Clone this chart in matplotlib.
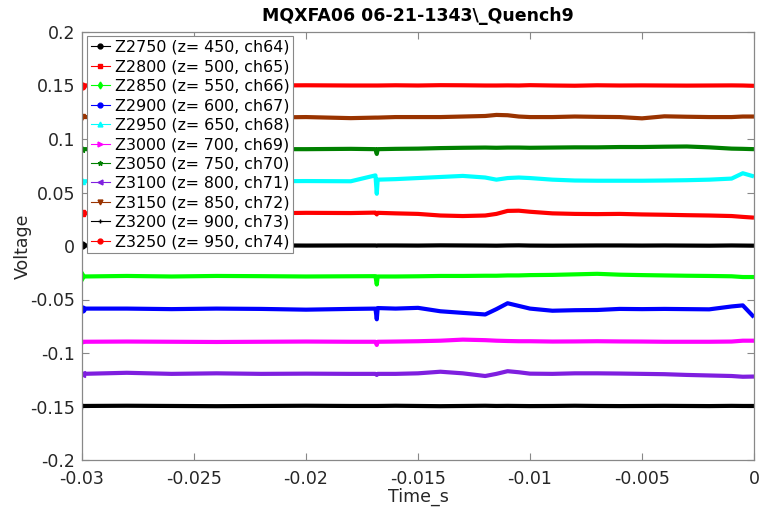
import matplotlib
matplotlib.use('Agg')
import matplotlib.pyplot as plt
from matplotlib.lines import Line2D

plt.rcParams['font.family'] = ['DejaVu Sans']
plt.rcParams['axes.unicode_minus'] = False

# ---- data ----
time_s = [-0.030, -0.028, -0.026, -0.024, -0.022, -0.020, -0.018, -0.0169, -0.01684, -0.0168,
          -0.016, -0.015, -0.014, -0.013, -0.012, -0.0115, -0.011, -0.0105, -0.010, -0.009,
          -0.008, -0.007, -0.006, -0.005, -0.004, -0.003, -0.002, -0.001, -0.0005, 0.0]

labels = ["Z2750 (z= 450, ch64)", "Z2800 (z= 500, ch65)", "Z2850 (z= 550, ch66)",
          "Z2900 (z= 600, ch67)", "Z2950 (z= 650, ch68)", "Z3000 (z= 700, ch69)",
          "Z3050 (z= 750, ch70)", "Z3100 (z= 800, ch71)", "Z3150 (z= 850, ch72)",
          "Z3200 (z= 900, ch73)", "Z3250 (z= 950, ch74)"]

v_z2750 = [0.0005, 0.0003, 0.0005, 0.0004, 0.0006, 0.0004, 0.0005, 0.0005, 0.0003, 0.0005,
           0.0005, 0.0004, 0.0006, 0.0005, 0.0004, 0.0003, 0.0005, 0.0006, 0.0004, 0.0003,
           0.0004, 0.0005, 0.0005, 0.0004, 0.0005, 0.0004, 0.0003, 0.0005, 0.0004, 0.0003]
v_z2800 = [0.0305, 0.0310, 0.0308, 0.0310, 0.0305, 0.0310, 0.0308, 0.0312, 0.0295, 0.0310,
           0.0305, 0.0300, 0.0285, 0.0280, 0.0285, 0.0300, 0.0328, 0.0330, 0.0320, 0.0305,
           0.0300, 0.0298, 0.0300, 0.0295, 0.0292, 0.0288, 0.0285, 0.0280, 0.0272, 0.0265]
v_z2850 = [-0.0285, -0.0280, -0.0285, -0.0280, -0.0282, -0.0285, -0.0283, -0.0282, -0.0360, -0.0285,
           -0.0285, -0.0283, -0.0280, -0.0280, -0.0278, -0.0278, -0.0275, -0.0275, -0.0272, -0.0270,
           -0.0265, -0.0260, -0.0268, -0.0272, -0.0275, -0.0278, -0.0280, -0.0283, -0.0290, -0.0290]
v_z2900 = [-0.0585, -0.0585, -0.0590, -0.0585, -0.0588, -0.0595, -0.0588, -0.0585, -0.0685, -0.0580,
           -0.0585, -0.0578, -0.0610, -0.0625, -0.0640, -0.0590, -0.0535, -0.0560, -0.0585, -0.0605,
           -0.0600, -0.0598, -0.0588, -0.0590, -0.0588, -0.0590, -0.0592, -0.0565, -0.0555, -0.0665]
v_z2950 = [0.0605, 0.0605, 0.0607, 0.0605, 0.0605, 0.0607, 0.0605, 0.0660, 0.0488, 0.0620,
           0.0625, 0.0635, 0.0645, 0.0655, 0.0640, 0.0620, 0.0635, 0.0640, 0.0635, 0.0620,
           0.0612, 0.0610, 0.0610, 0.0610, 0.0612, 0.0615, 0.0620, 0.0630, 0.0680, 0.0650]
v_z3000 = [-0.0895, -0.0893, -0.0895, -0.0897, -0.0895, -0.0893, -0.0895, -0.0895, -0.0925, -0.0895,
           -0.0893, -0.0890, -0.0885, -0.0875, -0.0880, -0.0885, -0.0888, -0.0890, -0.0890, -0.0893,
           -0.0892, -0.0890, -0.0892, -0.0893, -0.0895, -0.0895, -0.0895, -0.0893, -0.0885, -0.0885]
v_z3050 = [0.0905, 0.0905, 0.0905, 0.0908, 0.0905, 0.0905, 0.0908, 0.0905, 0.0860, 0.0905,
           0.0908, 0.0910, 0.0915, 0.0918, 0.0920, 0.0918, 0.0920, 0.0920, 0.0918, 0.0920,
           0.0922, 0.0922, 0.0925, 0.0925, 0.0928, 0.0930, 0.0922, 0.0910, 0.0908, 0.0905]
v_z3100 = [-0.1195, -0.1185, -0.1195, -0.1190, -0.1195, -0.1193, -0.1195, -0.1195, -0.1205, -0.1195,
           -0.1195, -0.1190, -0.1175, -0.1190, -0.1215, -0.1195, -0.1170, -0.1180, -0.1193, -0.1195,
           -0.1190, -0.1190, -0.1192, -0.1195, -0.1198, -0.1205, -0.1210, -0.1215, -0.1222, -0.1220]
v_z3150 = [0.1205, 0.1205, 0.1210, 0.1205, 0.1200, 0.1205, 0.1195, 0.1200, 0.1200, 0.1200,
           0.1205, 0.1205, 0.1205, 0.1210, 0.1215, 0.1225, 0.1222, 0.1210, 0.1205, 0.1205,
           0.1210, 0.1207, 0.1205, 0.1193, 0.1212, 0.1208, 0.1205, 0.1205, 0.1210, 0.1210]
v_z3200 = [-0.1495, -0.1493, -0.1495, -0.1497, -0.1495, -0.1493, -0.1495, -0.1495, -0.1495, -0.1495,
           -0.1493, -0.1495, -0.1497, -0.1495, -0.1493, -0.1495, -0.1494, -0.1495, -0.1496, -0.1495,
           -0.1493, -0.1495, -0.1496, -0.1495, -0.1494, -0.1495, -0.1496, -0.1494, -0.1495, -0.1495]
v_z3250 = [0.1500, 0.1505, 0.1500, 0.1498, 0.1500, 0.1502, 0.1500, 0.1500, 0.1500, 0.1500,
           0.1502, 0.1500, 0.1503, 0.1502, 0.1500, 0.1500, 0.1501, 0.1500, 0.1503, 0.1500,
           0.1498, 0.1502, 0.1500, 0.1501, 0.1500, 0.1499, 0.1500, 0.1501, 0.1500, 0.1497]

series = [v_z2750, v_z2800, v_z2850, v_z2900, v_z2950, v_z3000,
          v_z3050, v_z3100, v_z3150, v_z3200, v_z3250]

xticks = [-0.03, -0.025, -0.02, -0.015, -0.01, -0.005, 0.0]
xtick_labels = ["-0.03", "-0.025", "-0.02", "-0.015", "-0.01", "-0.005", "0"]
yticks = [-0.2, -0.15, -0.1, -0.05, 0.0, 0.05, 0.1, 0.15, 0.2]
ytick_labels = ["-0.2", "-0.15", "-0.1", "-0.05", "0", "0.05", "0.1", "0.15", "0.2"]

# ---- style ----
colors = ['#000000', '#ff0000', '#00ff00', '#0000ff', '#00ffff', '#ff00ff',
          '#008000', '#7f1fdf', '#993300', '#000000', '#ff0000']
markers = ['o', 's', 'd', 'o', '^', '>', '*', '<', 'v', '+', 'o']

fig = plt.figure(figsize=(7.6, 5.08), dpi=100)
ax = fig.add_axes([82/760, 48/508, 672/760, 428/508])

for vals, c, m in zip(series, colors, markers):
    ax.plot(time_s, vals, color=c, lw=3.0, marker=m, markevery=[0], ms=5,
            solid_capstyle='butt', solid_joinstyle='round')

ax.set_xlim(-0.03, 0.0)
ax.set_ylim(-0.2, 0.2)
ax.set_xticks(xticks)
ax.set_xticklabels(xtick_labels)
ax.set_yticks(yticks)
ax.set_yticklabels(ytick_labels)

axis_gray = '#888888'
for sp in ax.spines.values():
    sp.set_color(axis_gray)
    sp.set_linewidth(0.9)
ax.tick_params(direction='in', length=5, width=0.8, color=axis_gray,
               labelsize=12.5, labelcolor='#262626', top=True, right=True)
ax.tick_params(axis='x', pad=7)
ax.tick_params(axis='y', pad=5)

ax.set_xlabel('Time_s', fontsize=12.5, color='#262626', labelpad=0)
ax.set_ylabel('Voltage', fontsize=12.5, color='#262626', labelpad=-1)
ax.set_title('MQXFA06 06-21-1343\\_Quench9', fontsize=12.5, fontweight='bold', pad=8)

handles = [Line2D([0], [0], color=c, lw=0.8, marker=m, ms=3.5)
           for c, m in zip(colors, markers)]
leg = ax.legend(handles, labels, loc='upper left', bbox_to_anchor=(5/672, 424/428),
                borderaxespad=0, fontsize=11.4, handlelength=1.2, handletextpad=0.3,
                labelspacing=0.28, borderpad=0.25, frameon=True, fancybox=False,
                framealpha=1, edgecolor=axis_gray)
leg.get_frame().set_linewidth(0.8)

fig.savefig('out.png', dpi=100)
